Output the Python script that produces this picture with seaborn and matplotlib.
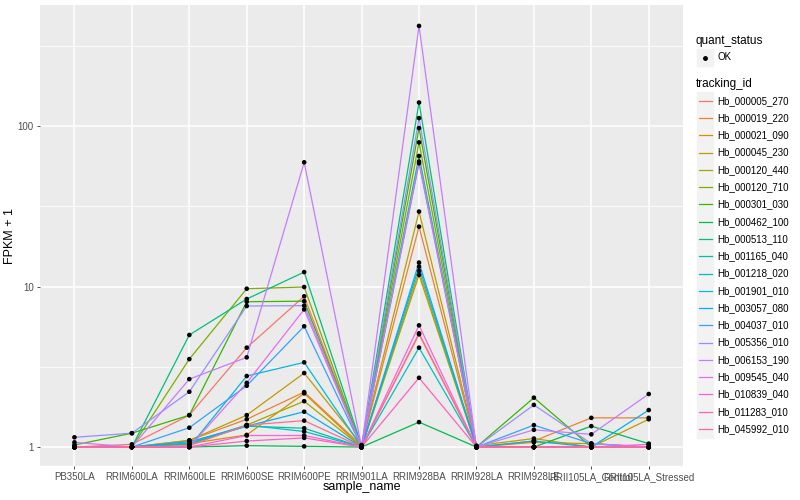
import matplotlib
matplotlib.use('Agg')
import matplotlib.pyplot as plt
import matplotlib.lines as mlines
import matplotlib.patches as mpatches
import seaborn as sns
import numpy as np
import pandas as pd

# samples on the x axis
samples = ['PB350LA', 'RRIM600LA', 'RRIM600LE', 'RRIM600SE', 'RRIM600PE', 'RRIM901LA',
           'RRIM928BA', 'RRIM928LA', 'RRIM928LE', 'RRII105LA_Control', 'RRII105LA_Stressed']

tracking_ids = ['Hb_000005_270', 'Hb_000019_220', 'Hb_000021_090', 'Hb_000045_230',
                'Hb_000120_440', 'Hb_000120_710', 'Hb_000301_030', 'Hb_000462_100',
                'Hb_000513_110', 'Hb_001165_040', 'Hb_001218_020', 'Hb_001901_010',
                'Hb_003057_080', 'Hb_004037_010', 'Hb_005356_010', 'Hb_006153_190',
                'Hb_009545_040', 'Hb_010839_040', 'Hb_011283_010', 'Hb_045992_010']

# FPKM + 1 per gene, in sample order
Hb_000005_270 = [1.00, 1.04, 1.58, 4.16, 8.69, 1.00, 5.04, 1.00, 1.00, 1.00, 1.00]
Hb_000019_220 = [1.00, 1.00, 1.10, 1.49, 2.20, 1.02, 23.6, 1.00, 1.09, 1.52, 1.52]
Hb_000021_090 = [1.00, 1.00, 1.05, 1.19, 2.16, 1.00, 12.5, 1.00, 1.07, 1.05, 1.00]
Hb_000045_230 = [1.00, 1.00, 1.10, 1.58, 2.89, 1.03, 29.3, 1.02, 1.13, 1.00, 1.49]
Hb_000120_440 = [1.00, 1.00, 1.04, 1.37, 1.93, 1.00, 11.8, 1.00, 1.00, 1.00, 1.00]
Hb_000120_710 = [1.00, 1.00, 3.53, 9.69, 9.93, 1.00, 79.0, 1.00, 1.00, 1.00, 1.00]
Hb_000301_030 = [1.03, 1.22, 1.58, 8.04, 8.10, 1.00, 97.0, 1.00, 2.03, 1.00, 1.00]
Hb_000462_100 = [1.00, 1.00, 1.00, 1.02, 1.01, 1.00, 1.43, 1.00, 1.00, 1.35, 1.05]
Hb_000513_110 = [1.00, 1.00, 4.99, 8.36, 12.3, 1.02, 140.0, 1.00, 1.00, 1.00, 1.00]
Hb_001165_040 = [1.00, 1.00, 1.05, 1.35, 1.31, 1.00, 65.0, 1.00, 1.00, 1.00, 1.00]
Hb_001218_020 = [1.00, 1.00, 1.06, 1.37, 1.25, 1.00, 4.16, 1.00, 1.00, 1.00, 1.00]
Hb_001901_010 = [1.00, 1.00, 1.00, 2.77, 3.37, 1.00, 13.3, 1.00, 1.00, 1.00, 1.00]
Hb_003057_080 = [1.00, 1.00, 1.08, 1.35, 1.66, 1.00, 14.1, 1.00, 1.09, 1.00, 1.70]
Hb_004037_010 = [1.00, 1.00, 1.32, 2.41, 5.65, 1.00, 58.6, 1.00, 1.37, 1.05, 1.00]
Hb_005356_010 = [1.15, 1.22, 2.21, 7.56, 7.60, 1.00, 112.0, 1.00, 1.83, 1.05, 1.00]
Hb_006153_190 = [1.07, 1.00, 2.65, 3.62, 59.4, 1.00, 420.0, 1.00, 1.28, 1.20, 2.14]
Hb_009545_040 = [1.00, 1.00, 1.00, 2.51, 7.20, 1.00, 60.0, 1.00, 1.00, 1.00, 1.00]
Hb_010839_040 = [1.00, 1.00, 1.00, 1.18, 1.18, 1.00, 5.73, 1.00, 1.00, 1.00, 1.04]
Hb_011283_010 = [1.00, 1.00, 1.00, 1.09, 1.14, 1.00, 2.70, 1.00, 1.00, 1.00, 1.00]
Hb_045992_010 = [1.00, 1.00, 1.02, 1.37, 1.46, 1.00, 5.11, 1.00, 1.00, 1.00, 1.00]

values = [Hb_000005_270, Hb_000019_220, Hb_000021_090, Hb_000045_230, Hb_000120_440,
          Hb_000120_710, Hb_000301_030, Hb_000462_100, Hb_000513_110, Hb_001165_040,
          Hb_001218_020, Hb_001901_010, Hb_003057_080, Hb_004037_010, Hb_005356_010,
          Hb_006153_190, Hb_009545_040, Hb_010839_040, Hb_011283_010, Hb_045992_010]

# ggplot default hue palette for 20 levels
colors = ['#F8766D', '#EA8331', '#D89000', '#C09B00', '#A3A500', '#7CAE00', '#39B600',
          '#00BB4E', '#00BF7D', '#00C1A3', '#00BFC4', '#00BAE0', '#00B0F6', '#35A2FF',
          '#9590FF', '#C77CFF', '#E76BF3', '#FA62DB', '#FF62BC', '#FF6C91']

rows = []
for tid, vals in zip(tracking_ids, values):
    for i, (s, v) in enumerate(zip(samples, vals)):
        rows.append({'tracking_id': tid, 'sample_name': s, 'x': i, 'fpkm1': v})
df = pd.DataFrame(rows)

plt.rcParams['font.family'] = ['Liberation Sans', 'DejaVu Sans']

fig = plt.figure(figsize=(8, 5), dpi=100)
ax = fig.add_axes([0.05, 0.068, 0.804, 0.922])
ax.set_facecolor('#EBEBEB')

ax.set_yscale('log')
ax.set_ylim(0.762, 567)
ax.set_xlim(-0.6, len(samples) - 0.4)

# grid
for yv in [1, 10, 100]:
    ax.axhline(yv, color='white', lw=1.1, zorder=0)
for yv in [10 ** 0.5, 10 ** 1.5, 10 ** 2.5]:
    ax.axhline(yv, color='white', lw=0.55, zorder=0)
for xv in range(len(samples)):
    ax.axvline(xv, color='white', lw=1.1, zorder=0)

sns.lineplot(data=df, x='x', y='fpkm1', hue='tracking_id', hue_order=tracking_ids,
             palette=colors, lw=0.9, ax=ax, legend=False, zorder=2)
sns.scatterplot(data=df, x='x', y='fpkm1', color='black', s=11, marker='o',
                edgecolor='none', ax=ax, legend=False, zorder=3)

ax.set_xticks(range(len(samples)))
ax.set_xticklabels(samples)
ax.set_yticks([1, 10, 100])
ax.set_yticklabels(['1', '10', '100'])
ax.minorticks_off()
ax.tick_params(axis='both', colors='#333333', labelcolor='#4D4D4D', labelsize=7,
               length=2.5, width=0.6, pad=2)
for sp in ax.spines.values():
    sp.set_visible(False)
ax.set_xlabel('sample_name', fontsize=9, color='black')
ax.set_ylabel('FPKM + 1', fontsize=9, color='black')
ax.xaxis.set_label_coords(0.5, -0.033)
ax.yaxis.set_label_coords(-0.037, 0.5)

# legend, drawn ggplot style
fig.text(696 / 800, 1 - 41 / 500, 'quant_status', fontsize=8.5, va='center', ha='left')
fig.patches.append(mpatches.Rectangle((697 / 800, 1 - 66 / 500), 16 / 800, 17 / 500,
                                      transform=fig.transFigure, color='#F2F2F2'))
fig.lines.append(mlines.Line2D([705 / 800], [1 - 57.5 / 500], transform=fig.transFigure,
                               marker='o', color='black', markersize=2.5, ls='none'))
fig.text(717 / 800, 1 - 57.5 / 500, 'OK', fontsize=7, va='center', ha='left')

fig.text(696 / 800, 1 - 84 / 500, 'tracking_id', fontsize=8.5, va='center', ha='left')
for k, (tid, c) in enumerate(zip(tracking_ids, colors)):
    yc = 100.7 + k * 17.28
    fig.patches.append(mpatches.Rectangle((697 / 800, 1 - (yc + 8.5) / 500), 16 / 800, 17 / 500,
                                          transform=fig.transFigure, color='#F2F2F2'))
    fig.lines.append(mlines.Line2D([698.5 / 800, 711.5 / 800], [1 - yc / 500, 1 - yc / 500],
                                   transform=fig.transFigure, color=c, lw=0.9))
    fig.text(717 / 800, 1 - yc / 500, tid, fontsize=7, va='center', ha='left')

fig.savefig('out.png', dpi=100)
